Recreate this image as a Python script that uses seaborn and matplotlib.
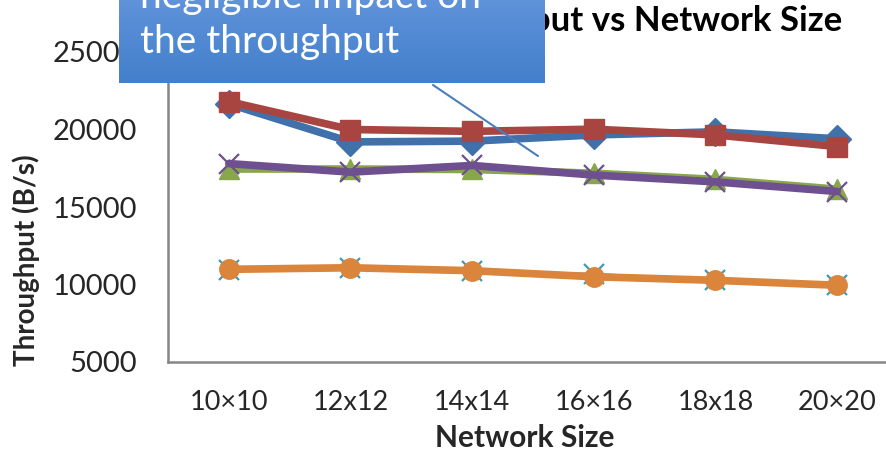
import numpy as np
import pandas as pd
import matplotlib
matplotlib.use("Agg")
import matplotlib.pyplot as plt
from matplotlib.lines import Line2D
import seaborn as sns

# Network sizes and measured throughput (B/s) for each configuration
sizes = ["10×10", "12x12", "14x14", "16×16", "18x18", "20×20"]
blue_vals = [21650, 19200, 19250, 19650, 19850, 19400]
red_vals = [21800, 20000, 19880, 20020, 19650, 18900]
green_vals = [17450, 17450, 17420, 17180, 16780, 16150]
purple_vals = [17800, 17250, 17680, 17060, 16620, 16000]
teal_vals = [10950, 11050, 10850, 10680, 10260, 9960]
orange_vals = [10980, 11080, 10890, 10500, 10270, 9950]
y_ticks = [5000, 10000, 15000, 20000, 25000]

sns.set_style("white")
plt.rcParams["font.family"] = ["Lato", "DejaVu Sans"]

W, H = 887, 454
fig = plt.figure(figsize=(W / 100, H / 100), dpi=100)
ax = fig.add_axes([168 / W, (H - 362) / H, 730 / W, 310 / H])

x = np.arange(len(sizes))
series = [
    (blue_vals, "#4171AB", "D", 14, 5.5, 1.0),
    (red_vals, "#A94541", "s", 14, 5.5, 1.0),
    (green_vals, "#88A64B", "^", 14, 5.5, 1.0),
    (purple_vals, "#6E4F8F", "x", 14, 5.5, 1.6),
    (teal_vals, "#3C9BB5", "x", 15, 1.8, 1.6),
    (orange_vals, "#DA843C", "o", 14, 5.5, 1.0),
]
for vals, col, mk, ms, lw, mew in series:
    df = pd.DataFrame({"pos": x, "val": vals})
    sns.lineplot(data=df, x="pos", y="val", ax=ax, color=col, marker=mk,
                 markersize=ms, linewidth=lw, markeredgecolor=col,
                 markeredgewidth=mew, markerfacecolor=col)

ax.set_xlim(-0.5, len(sizes) - 0.5)
ax.set_ylim(5000, 25000)
ax.set_yticks(y_ticks)
ax.set_yticklabels([str(v) for v in y_ticks])
ax.set_xticks(x)
ax.set_xticklabels(sizes)
ax.set_xticks(np.arange(-0.5, len(sizes)), minor=True)
ax.tick_params(axis="x", which="major", length=0, pad=20, labelsize=19.5)
ax.tick_params(axis="x", which="minor", length=7, width=1.5, color="#868686",
               direction="out")
ax.tick_params(axis="y", which="major", length=7, width=1.5, color="#868686",
               direction="out", pad=15, labelsize=21)
for side in ["top", "right"]:
    ax.spines[side].set_visible(False)
for side in ["left", "bottom"]:
    ax.spines[side].set_color("#868686")
    ax.spines[side].set_linewidth(1.8)

ax.set_xlabel("Network Size", fontsize=21.5, fontweight="bold")
ax.xaxis.set_label_coords((525 - 168) / 730, (362 - 424) / 310)
ax.set_ylabel("Throughput (B/s)", fontsize=20, fontweight="bold")
ax.yaxis.set_label_coords((40 - 168) / 730, (362 - 260) / 310)

# Chart title
fig.text(842 / W, 1 - 21 / H, "Throughput vs Network Size", ha="right",
         va="center", fontsize=25, fontweight="bold", color="black")

# Callout box with vertical blue gradient
box = fig.add_axes([119 / W, (H - 83) / H, (545 - 119) / W, 140 / H], zorder=10)
top = np.array([0x72, 0xA0, 0xE4]) / 255
bot = np.array([0x43, 0x7F, 0xCB]) / 255
t = np.linspace(0, 1, 256)[:, None]
grad = (top[None, :] * (1 - t) + bot[None, :] * t)[:, None, :]
box.imshow(grad, aspect="auto", extent=[0, 1, 0, 1])
box.set_axis_off()

fig.text(140 / W, 1 - 8 / H, "negligible impact on", color="white",
         fontsize=28, va="baseline", ha="left", zorder=11)
fig.text(140 / W, 1 - 53 / H, "the throughput", color="white",
         fontsize=28, va="baseline", ha="left", zorder=11)

# Callout pointer
fig.add_artist(Line2D([433 / W, 538 / W], [1 - 85 / H, 1 - 156 / H],
                      transform=fig.transFigure, color="#4A7EBB",
                      linewidth=1.5, zorder=12))

fig.savefig("out.png", dpi=100)
